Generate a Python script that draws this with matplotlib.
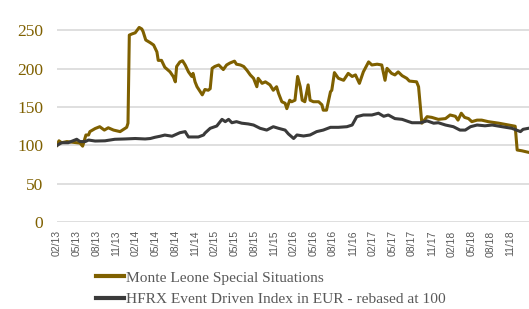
import matplotlib
matplotlib.use("Agg")
import matplotlib.pyplot as plt
from matplotlib.lines import Line2D

# months since Feb 2013
gold_x = [0, 0.3, 0.7, 1.5, 3.5, 3.9, 4.4, 4.8, 5.0, 5.8, 6.5, 7.2, 7.8, 8.6, 9.6, 10.6, 10.8,
          11.0, 11.4, 11.9, 12.5, 12.9, 13.1, 13.5, 14.2, 14.7, 15.2, 15.4, 15.9, 16.4, 17.2, 17.7,
          18.0, 18.2, 18.7, 19.1, 19.5, 20.0, 20.5, 20.7, 21.0, 21.3, 21.8, 22.1, 22.5, 23.0, 23.3,
          23.6, 24.0, 24.6, 25.3, 25.8, 26.3, 27.0, 27.3, 27.9, 28.4, 28.9, 29.4, 29.9, 30.4, 30.6,
          31.2, 31.7, 32.4, 32.9, 33.4, 33.7, 34.2, 34.7, 34.96, 35.4, 35.7, 36.2, 36.6, 37.0, 37.3,
          37.7, 38.2, 38.5, 39.0, 39.8, 40.3, 40.5, 41.0, 41.6, 41.8, 42.2, 42.8, 43.6, 44.3, 44.9,
          45.4, 46.0, 46.6, 47.4, 47.9, 48.7, 49.4, 49.9, 50.2, 50.9, 51.4, 51.9, 52.5, 53.2, 53.6,
          54.7, 55.0, 55.5, 56.3, 57.0, 58.0, 59.1, 59.8, 60.6, 61.0, 61.5, 62.0, 62.6, 63.1, 63.9,
          64.6, 65.6, 67.2, 68.7, 69.7, 70.0, 70.7, 71.7]
gold_y = [100, 106, 103.5, 105, 103, 99, 113.6, 113.6, 118, 122, 124.4, 120, 123, 120, 118, 123.6, 129,
          244, 245.5, 247, 254, 252, 248.5, 237.6, 234, 231, 222, 211, 211, 202, 196, 189.7,
          183, 203, 209, 210.5, 205, 196, 190, 194, 183, 176.6, 170, 166, 173, 172, 174,
          200.6, 203, 205, 199, 205, 207.5, 210, 206, 205, 203, 198, 192, 187.6, 176.6, 187.6,
          181, 183, 179, 172, 176.6, 168, 157, 155, 148, 159, 157, 159, 190, 176.6, 159,
          157, 179, 159, 157, 157, 153, 146, 146, 170, 172, 195, 187.6, 185, 194, 190,
          192, 181, 196, 209, 205, 206, 205, 185, 200.6, 194, 192, 196, 191, 187.6, 184,
          183, 176.6, 129, 137.5, 136.6, 134, 135, 139.7, 138, 133, 142, 136.6, 135, 131, 133,
          133, 131, 129, 126.6, 125, 94, 93, 91]

hfrx_x = [0, 0.7, 1.7, 3.0, 3.5, 4.3, 4.8, 5.8, 7.3, 8.8, 10.3, 11.9, 13.4, 14.2, 14.9, 15.7, 16.4,
          17.5, 18.7, 19.5, 19.7, 20.0, 20.7, 21.5, 22.3, 22.5, 23.3, 24.3, 25.1, 25.6, 26.1, 26.6,
          27.3, 28.1, 29.1, 29.9, 30.9, 31.9, 32.9, 33.7, 34.7, 35.2, 36.0, 36.5, 37.5, 38.5, 39.5,
          40.5, 41.6, 42.8, 44.1, 44.9, 45.6, 46.6, 47.9, 48.9, 49.7, 50.4, 51.4, 52.5, 53.5, 54.0,
          55.3, 56.3, 57.3, 58.0, 59.1, 60.3, 61.3, 62.1, 62.9, 63.9, 65.1, 66.2, 67.7, 69.2, 70.5,
          70.9, 71.7]
hfrx_y = [100, 103.5, 103.5, 108, 105, 105, 107, 105.7, 106, 108, 108.4, 109, 108.4, 109, 110.6, 112, 113.5,
          112, 116.6, 118, 115, 111, 111, 111, 113.6, 116, 122.3, 125.3, 134, 131, 134, 129.6,
          131, 129, 128, 126.6, 122.3, 120, 124.4, 122.3, 120, 115, 109, 113.6, 112.3, 113.6, 118,
          120, 123.6, 123.6, 124.4, 126.6, 137.5, 139.7, 139.7, 142, 138, 139.7, 135, 134, 131, 129.6,
          129.6, 132, 129, 129.6, 126.6, 124.4, 120, 120, 124.4, 126.6, 125.6, 126.6, 124.4, 122.3, 118,
          121, 122.3]

tick_labels = ["02/13", "05/13", "08/13", "11/13", "02/14", "05/14", "08/14", "11/14",
               "02/15", "05/15", "08/15", "11/15", "02/16", "05/16", "08/16", "11/16",
               "02/17", "05/17", "08/17", "11/17", "02/18", "05/18", "08/18", "11/18"]
y_ticks = [0, 50, 100, 150, 200, 250, 300]

series_names = ["Monte Leone Special Situations",
                "HFRX Event Driven Index in EUR - rebased at 100"]

GOLD = "#7f6000"
DARK = "#3a3a3a"
GRID = "#d9d9d9"
TEXT = "#595959"

fig = plt.figure(figsize=(5.29, 3.09), dpi=100)
ax = fig.add_axes([57 / 529, 87 / 309, 472 / 529, 229.8 / 309])

ax.plot(gold_x, gold_y, color=GOLD, lw=2.2, solid_joinstyle="round", zorder=3)
ax.plot(hfrx_x, hfrx_y, color=DARK, lw=2.2, solid_joinstyle="round", zorder=3)

ax.set_xlim(0, 71.8)
ax.set_ylim(0, 300)
ax.set_yticks(y_ticks)
ax.set_yticklabels([str(v) for v in y_ticks], family="Liberation Serif", fontsize=12.5, color=GOLD)
ax.set_xticks([3 * i for i in range(len(tick_labels))])
ax.set_xticklabels(tick_labels, rotation=90, family="Liberation Sans", fontsize=7.5, color=TEXT)
ax.tick_params(axis="both", length=0)
ax.tick_params(axis="y", pad=10)
ax.tick_params(axis="x", pad=6)
ax.grid(axis="y", color=GRID, lw=1.2)
ax.set_axisbelow(True)
for s in ax.spines.values():
    s.set_visible(False)

handles = [Line2D([], [], color=GOLD, lw=3), Line2D([], [], color=DARK, lw=3)]
leg = fig.legend(handles, series_names, loc="upper left", bbox_to_anchor=(96 / 529, 1 - 271 / 309),
                 frameon=False, prop={"family": "Liberation Serif", "size": 11.1},
                 handlelength=1.8, handletextpad=0.15, labelspacing=0.5, borderaxespad=0, borderpad=0)
for t in leg.get_texts():
    t.set_color(TEXT)

fig.savefig("out.png", dpi=100)
